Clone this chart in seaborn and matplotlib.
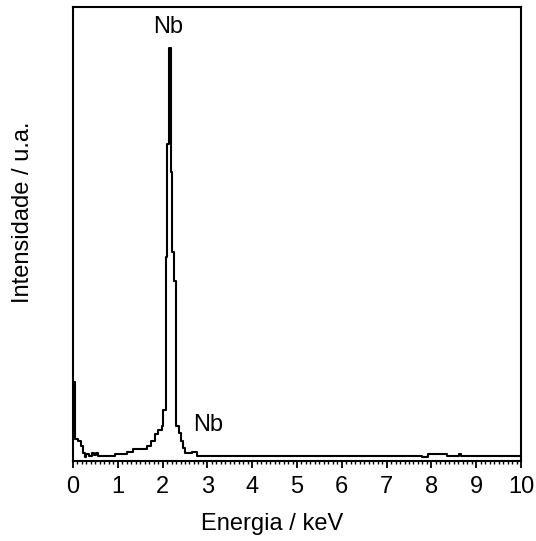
import matplotlib
matplotlib.use("Agg")
import matplotlib.pyplot as plt
from matplotlib.ticker import MultipleLocator
import numpy as np
import pandas as pd
import seaborn as sns

# EDS spectrum, channel edges (keV) and intensity (u.a.), drawn as steps
energy_kev = [0.00, 0.04, 0.11, 0.17, 0.22, 0.26, 0.30, 0.36, 0.42, 0.47,
              0.51, 0.56, 0.94, 1.20, 1.33, 1.65, 1.73, 1.83, 1.90, 1.98,
              2.02, 2.07, 2.10, 2.14, 2.19, 2.22, 2.26, 2.31, 2.37, 2.41,
              2.46, 2.51, 2.65, 2.76, 7.80, 7.93, 8.35, 8.62, 8.67, 10.00]
intensity = [17.5, 4.8, 4.5, 3.3, 1.7, 0.9, 1.6, 1.2, 1.8, 1.4,
             1.8, 1.2, 1.5, 2.0, 2.7, 3.3, 4.4, 5.9, 6.8, 7.6,
             11.2, 45.0, 69.9, 91.0, 63.7, 46.0, 39.6, 7.6, 6.1, 4.3,
             2.8, 1.8, 2.0, 1.2, 0.9, 1.6, 1.2, 1.6, 1.2, 1.2]

# Element annotations: (label, energy keV, height u.a.)
peak_labels = ["Nb", "Nb"]
peak_label_x = [2.12, 3.01]
peak_label_y = [95.6, 7.9]

x_ticks = list(range(0, 11))

sns.set_theme(style="ticks")
plt.rcParams["font.family"] = ["Liberation Sans", "DejaVu Sans"]

FS = 17

df = pd.DataFrame({"Energia": energy_kev, "Intensidade": intensity})

fig = plt.figure(figsize=(5.36, 5.41), dpi=100)
ax = fig.add_axes([73 / 536, 1 - 461 / 541, 448 / 536, 454 / 541])

sns.lineplot(data=df, x="Energia", y="Intensidade", ax=ax, estimator=None,
             drawstyle="steps-post", color="black", linewidth=1.5)

ax.set_xlim(0, 10)
ax.set_ylim(0, 100)

for lab, lx, ly in zip(peak_labels, peak_label_x, peak_label_y):
    ax.text(lx, ly, lab, ha="center", va="center", fontsize=FS, color="black")

ax.set_xticks(x_ticks)
ax.set_xticklabels([str(t) for t in x_ticks])
ax.xaxis.set_minor_locator(MultipleLocator(0.1))
ax.tick_params(axis="x", which="major", direction="out", length=5, width=1.3,
               labelsize=FS, pad=6, colors="black")
ax.tick_params(axis="x", which="minor", direction="out", length=2.5, width=1.0,
               colors="black")
ax.set_yticks([])

for s in ax.spines.values():
    s.set_visible(True)
    s.set_linewidth(1.5)
    s.set_color("black")

ax.set_xlabel("Energia / keV", fontsize=FS, color="black")
ax.set_ylabel("Intensidade / u.a.", fontsize=FS, color="black")
ax.xaxis.set_label_coords(0.444, -0.114)
ax.yaxis.set_label_coords(-0.087, 0.548)

fig.savefig("out.png", dpi=100, facecolor="white")
